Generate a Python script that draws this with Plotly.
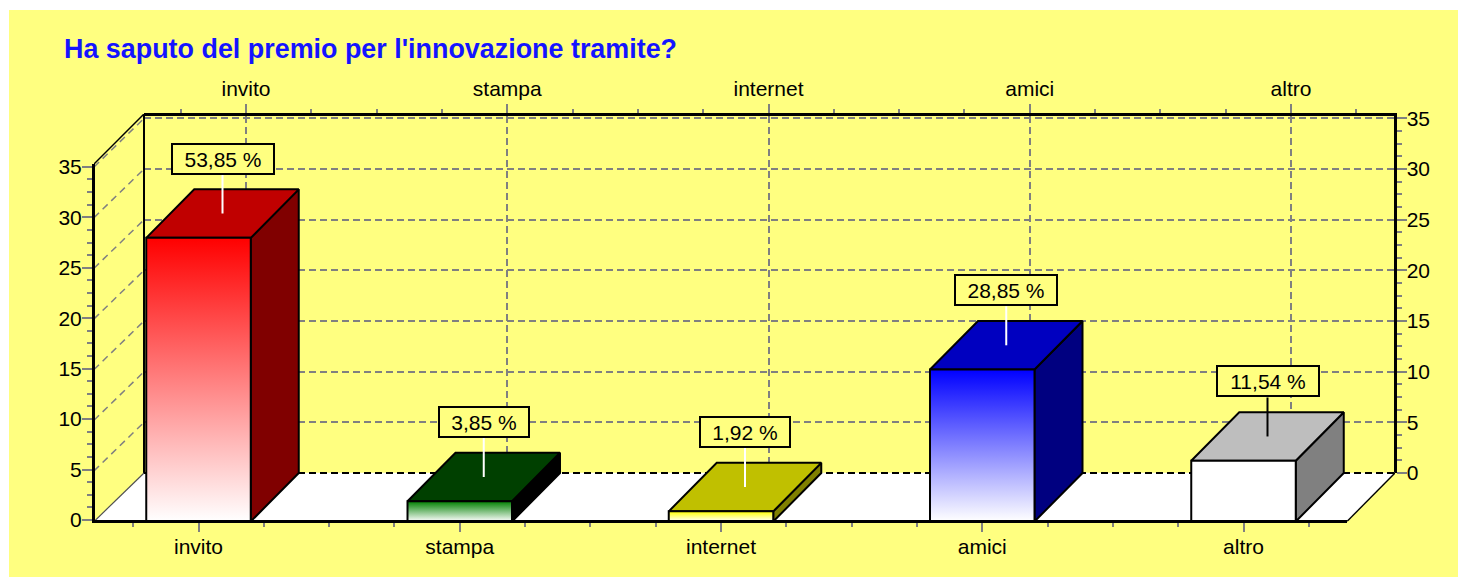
import plotly.graph_objects as go

# ---- data ----
categories = ["invito", "stampa", "internet", "amici", "altro"]
values = [28, 2, 1, 15, 6]
percent_labels = ["53,85 %", "3,85 %", "1,92 %", "28,85 %", "11,54 %"]
front_colors = ["#FF0000", "#008000", "#FFFF00", "#0000FF", "#FFFFFF"]
top_colors = ["#C00000", "#004000", "#C0C000", "#0000C0", "#BEBEBE"]
side_colors = ["#800000", "#000000", "#808000", "#000080", "#808080"]
leader_colors = ["#FFFFFF", "#FFFFFF", "#FFFFFF", "#FFFFFF", "#000000"]
y_ticks = [0, 5, 10, 15, 20, 25, 30, 35]

# ---- layout constants ----
W, H = 1458, 577
FONT = "Liberation Sans"
YELLOW = "#FFFF80"
GRID = "#808080"
PX_X = 261.25      # px per category
PX_Y = 10.13       # px per value unit
DX = 48.0 / PX_X   # bar depth in category units
DY = 48.5 / PX_Y   # depth in value units
HALF = 0.2         # half bar width
X_MIN, X_MAX = -0.4, 4.396
WALL_DX = 50.0 / PX_X
FLOOR_RIGHT_DX = 48.0 / PX_X
FRONT_TOP = (521.5 - 164) / PX_Y
BACK_TOP = (521.5 - 114) / PX_Y
LEADER = 3.85      # leader length in value units


def dom_x(a, b):
    return [a / W, b / W]


def dom_y(top, bottom):
    return [1 - bottom / H, 1 - top / H]


fig = go.Figure()


def poly(xs, ys, fill=None, line="#000000", lw=2, gradient=None):
    kw = dict(fillgradient=gradient) if gradient else dict(fillcolor=fill)
    fig.add_trace(go.Scatter(x=xs, y=ys, xaxis="x2", yaxis="y2", mode="lines", fill="toself",
                             line=dict(color=line, width=lw), hoverinfo="skip", showlegend=False, **kw))


def seg(xs, ys, color="#000000", lw=1.5, dash="solid"):
    fig.add_trace(go.Scatter(x=xs, y=ys, xaxis="x2", yaxis="y2", mode="lines",
                             line=dict(color=color, width=lw, dash=dash), hoverinfo="skip", showlegend=False))


# invisible traces so that the front and back axis pairs exist
fig.add_trace(go.Scatter(x=[0], y=[0], xaxis="x", yaxis="y", mode="none", hoverinfo="skip", showlegend=False))

# left wall gridlines
for t in y_ticks[1:]:
    seg([X_MIN, X_MIN + WALL_DX], [t, t + DY], GRID, 1.5, "7px,5px")
# wall edges
seg([X_MIN, X_MIN + WALL_DX], [FRONT_TOP, BACK_TOP], "#000000", 1.5)
seg([X_MIN + WALL_DX, X_MIN + WALL_DX], [DY, BACK_TOP], "#000000", 2)

# floor
bx0, bx1 = X_MIN + WALL_DX, X_MAX + FLOOR_RIGHT_DX
poly([X_MIN, X_MAX, bx1, bx0, X_MIN], [0, 0, DY, DY, 0], fill="#FFFFFF", line="#FFFFFF", lw=0.5)
seg([X_MIN, bx0], [0, DY], "#505050", 1.2)
seg([X_MAX, bx1], [0, DY], "#000000", 1.4)
seg([bx0, bx1], [DY, DY], "#000000", 1.8, "7px,4px")

# bars
for i, v in enumerate(values):
    l, r = i - HALF, i + HALF
    poly([r, r + DX, r + DX, r, r], [0, DY, v + DY, v, 0], fill=side_colors[i])
    poly([l, r, r + DX, l + DX, l], [v, v, v + DY, v + DY, v], fill=top_colors[i])
    poly([l, r, r, l, l], [0, 0, v, v, 0],
         gradient=dict(type="vertical", colorscale=[[0, "#FFFFFF"], [1, front_colors[i]]]))
    cx, cy = i + DX / 2, v + DY / 2
    seg([cx, cx], [cy, cy + LEADER], leader_colors[i], 2)
    fig.add_annotation(x=cx, y=cy + LEADER, xref="x2", yref="y2", xanchor="center", yanchor="bottom",
                       text=percent_labels[i], showarrow=False, align="center",
                       font=dict(family=FONT, size=21, color="#000000"),
                       bgcolor=YELLOW, bordercolor="#000000", borderwidth=2, borderpad=3,
                       width=len(percent_labels[i]) * 12 + 10, height=22)

tick_font = dict(family=FONT, size=21, color="#000000")
common_x = dict(tickmode="array", tickvals=list(range(len(categories))), ticktext=categories,
                ticks="outside", ticklen=9, tickwidth=1.5, tickcolor=GRID, tickfont=tick_font,
                showline=True, linecolor="#000000", linewidth=3, zeroline=False,
                minor=dict(tickvals=[k / 4 for k in range(-1, 18) if k % 4], ticks="outside",
                           ticklen=4, tickwidth=1.5, tickcolor=GRID, showgrid=False))
common_y = dict(tickmode="array", tickvals=y_ticks, ticks="outside", ticklen=10, tickwidth=1.5, tickcolor=GRID,
                tickfont=tick_font, showline=True, linecolor="#000000", linewidth=3, zeroline=False,
                minor=dict(dtick=1.25, ticks="outside", ticklen=5, tickwidth=1.5, tickcolor=GRID, showgrid=False))

fig.update_layout(
    width=W, height=H, margin=dict(l=0, r=0, t=0, b=0, autoexpand=False),
    paper_bgcolor="#FFFFFF", plot_bgcolor="rgba(0,0,0,0)", showlegend=False,
    title=dict(text="<b>Ha saputo del premio per l'innovazione tramite?</b>", x=64 / W, xanchor="left",
               y=1 - 49 / H, yanchor="middle", font=dict(family=FONT, size=26.9, color="#1414FF")),
    # back frame
    xaxis=dict(domain=dom_x(144, 1393.5), range=[(144 - 246) / PX_X, (1393.5 - 246) / PX_X], anchor="y", side="top",
               ticklabelstandoff=-1, showgrid=True, gridcolor=GRID, gridwidth=1.5, griddash="7px,4px", **common_x),
    yaxis=dict(domain=dom_y(115.5, 473), range=[0, (473 - 115.5) / PX_Y], anchor="x", side="right",
               ticklabelstandoff=-4, showgrid=True, gridcolor=GRID, gridwidth=1.5, griddash="7px,4px", **common_y),
    # drawing space for the 3D marks
    xaxis2=dict(domain=dom_x(94, 1395), range=[X_MIN, X_MIN + 1301 / PX_X], anchor="y2", visible=False),
    yaxis2=dict(domain=dom_y(114, 521.5), range=[0, BACK_TOP], anchor="x2", visible=False),
    # front axes
    xaxis3=dict(domain=dom_x(95, 1347), range=[(95 - 198.5) / PX_X, (1347 - 198.5) / PX_X], anchor="y3", side="bottom",
                ticklabelstandoff=-3, showgrid=False, **common_x),
    yaxis3=dict(domain=dom_y(164, 520), range=[0, (520 - 164) / 10.09], anchor="x3", side="left",
                ticklabelstandoff=-4, showgrid=False, **common_y),
    shapes=[dict(type="rect", xref="paper", yref="paper", x0=9 / W, x1=1, y0=0, y1=1 - 10 / H,
                 fillcolor=YELLOW, line=dict(width=0), layer="below")],
)
fig.add_trace(go.Scatter(x=[0], y=[0], xaxis="x3", yaxis="y3", mode="none", hoverinfo="skip", showlegend=False))

fig.write_html("out.html", config={"displayModeBar": False},
               post_script="document.body.style.margin='0';document.documentElement.style.overflow='hidden';")
